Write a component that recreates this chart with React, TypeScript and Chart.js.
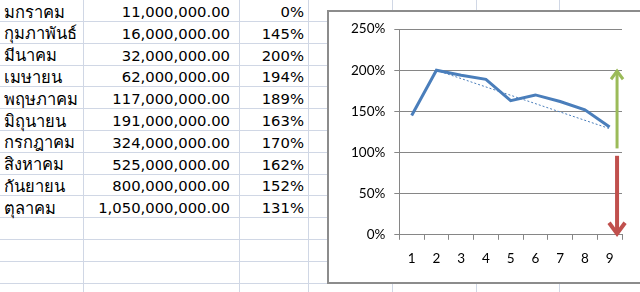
import React, { useEffect, useRef } from "react";
import { Chart, registerables } from "chart.js";

Chart.register(...registerables);

const months = [
  "มกราคม",
  "กุมภาพันธ์",
  "มีนาคม",
  "เมษายน",
  "พฤษภาคม",
  "มิถุนายน",
  "กรกฎาคม",
  "สิงหาคม",
  "กันยายน",
  "ตุลาคม",
];
const amounts = [
  11000000, 16000000, 32000000, 62000000, 117000000, 191000000, 324000000,
  525000000, 800000000, 1050000000,
];
const growth = [0, 145, 200, 194, 189, 163, 170, 162, 152, 131];

const categories = ["1", "2", "3", "4", "5", "6", "7", "8", "9"];
const series = [145, 200, 194, 189, 163, 170, 162, 152, 131];
const trendLine = [null, 200, null, null, null, null, null, null, 129];
const yTicks = [0, 50, 100, 150, 200, 250];

// arrows in data units: [from %, to %], placed at category index position
const arrowX = 8.3;
const arrowUp = [105, 200];
const arrowDown = [96, 0];

const colLines = [83, 239, 308, 392, 476, 559];
const rowH = 21.8;
const firstRowLine = 21;
const gridColor = "#D0D7E5";

const arrowPlugin = {
  id: "arrows",
  afterDatasetsDraw(chart: any) {
    const { ctx, scales } = chart;
    const x = scales.x.getPixelForValue(arrowX);
    const draw = (from: number, to: number, color: string, w: number, head: number) => {
      const y1 = scales.y.getPixelForValue(from);
      const y2 = scales.y.getPixelForValue(to);
      const dir = y2 < y1 ? -1 : 1;
      ctx.save();
      ctx.strokeStyle = color;
      ctx.lineWidth = w;
      ctx.lineCap = "butt";
      ctx.beginPath();
      ctx.moveTo(x, y1);
      ctx.lineTo(x, y2 - dir * w * 0.5);
      ctx.stroke();
      ctx.lineJoin = "miter";
      ctx.beginPath();
      ctx.moveTo(x - head / 2, y2 - dir * head * 0.75);
      ctx.lineTo(x, y2 - dir * w * 0.3);
      ctx.lineTo(x + head / 2, y2 - dir * head * 0.75);
      ctx.stroke();
      ctx.restore();
    };
    draw(arrowUp[0], arrowUp[1], "#9BBB59", 3, 12);
    draw(arrowDown[0], arrowDown[1], "#C0504D", 4, 16);
  },
};

function ChartBox() {
  const ref = useRef<HTMLCanvasElement>(null);
  useEffect(() => {
    if (!ref.current) return;
    const chart = new Chart(ref.current, {
      type: "line",
      data: {
        labels: categories,
        datasets: [
          {
            data: series,
            borderColor: "#4A7EBB",
            borderWidth: 3,
            pointRadius: 0,
            tension: 0,
            borderJoinStyle: "miter",
          },
          {
            data: trendLine as any,
            borderColor: "#4A7EBB",
            borderWidth: 1,
            borderDash: [2, 2],
            pointRadius: 0,
            spanGaps: true,
          },
        ],
      },
      options: {
        responsive: false,
        animation: false,
        layout: { padding: { left: 13, right: 18, top: 10, bottom: 5 } },
        plugins: { legend: { display: false }, tooltip: { enabled: false } },
        scales: {
          x: {
            offset: true,
            grid: {
              offset: true,
              drawOnChartArea: false,
              drawTicks: true,
              tickLength: 5,
              color: "#868686",
            },
            border: { display: true, color: "#868686" },
            ticks: {
              padding: 11,
              color: "#000",
              font: { family: "Lato", size: 13.5 },
              maxRotation: 0,
            },
          },
          y: {
            min: 0,
            max: 250,
            afterBuildTicks: (s: any) => {
              s.ticks = yTicks.map((v) => ({ value: v }));
            },
            grid: { color: "#868686", tickLength: 5 },
            border: { display: true, color: "#868686" },
            ticks: {
              padding: 9,
              color: "#000",
              font: { family: "Lato", size: 13.5 },
              callback: (v: any) => v + "%",
            },
          },
        },
      },
      plugins: [arrowPlugin],
    });
    return () => chart.destroy();
  }, []);
  return (
    <canvas
      ref={ref}
      width={311}
      height={271}
      style={{ position: "absolute", left: 329, top: 12, width: 311, height: 271 }}
    />
  );
}

export default function App() {
  const fmt = (n: number) =>
    n.toLocaleString("en-US", { minimumFractionDigits: 2, maximumFractionDigits: 2 });
  const rowLines: number[] = [];
  for (let k = 0; k < 13; k++) rowLines.push(firstRowLine + rowH * k);
  const font = "Tahoma, 'DejaVu Sans', 'Noto Sans', sans-serif";
  return (
    <div
      style={{
        position: "fixed",
        left: 0,
        top: 0,
        width: 640,
        height: 292,
        overflow: "hidden",
        background: "#fff",
        fontFamily: font,
        fontSize: 14.8,
        color: "#000",
      }}
    >
      {colLines.map((x, i) => (
        <div
          key={"c" + i}
          style={{ position: "absolute", left: x, top: 0, width: 1, height: 292, background: gridColor }}
        />
      ))}
      {rowLines.map((y, i) => (
        <div
          key={"r" + i}
          style={{ position: "absolute", left: 0, top: Math.round(y), width: 640, height: 1, background: gridColor }}
        />
      ))}
      {months.map((m, i) => {
        const top = firstRowLine + rowH * (i - 1) + 2;
        const cell = { position: "absolute" as const, top, height: rowH - 1, display: "flex", alignItems: "center", whiteSpace: "nowrap" as const };
        return (
          <React.Fragment key={m}>
            <div style={{ ...cell, left: 4, width: 79, fontSize: 16.5 }}>{m}</div>
            <div style={{ ...cell, left: 84, width: 146, justifyContent: "flex-end" }}>{fmt(amounts[i])}</div>
            <div style={{ ...cell, left: 240, width: 64, justifyContent: "flex-end" }}>{growth[i] + "%"}</div>
          </React.Fragment>
        );
      })}
      <div
        style={{
          position: "absolute",
          left: 327,
          top: 10,
          width: 400,
          height: 274,
          boxSizing: "border-box",
          border: "2px solid #8C8C8C",
          background: "#fff",
        }}
      />
      <ChartBox />
    </div>
  );
}
